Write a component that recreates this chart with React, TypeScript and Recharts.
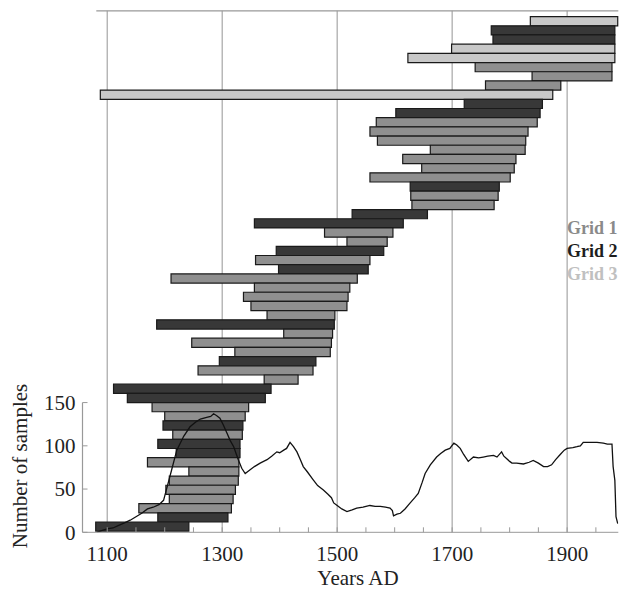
import { CartesianGrid, ComposedChart, Line, ReferenceArea, ReferenceLine, XAxis, YAxis } from "recharts"

// sample depth curve
const sampleYears = [
  1082, 1090, 1100, 1110, 1120, 1130, 1140, 1150, 1160, 1170, 1180, 1190, 1198, 1204, 1212, 1221, 1233, 1244, 1255,
  1262, 1273, 1280, 1285, 1290, 1296, 1302, 1308, 1314, 1320, 1328, 1334, 1340, 1348, 1356, 1366, 1372, 1378, 1386,
  1395, 1400, 1407, 1412, 1418, 1424, 1430, 1436, 1441, 1448, 1458, 1466, 1476, 1484, 1490, 1494, 1500, 1508, 1517,
  1526, 1534, 1545, 1557, 1566, 1575, 1584, 1592, 1596, 1598, 1604, 1610, 1618, 1627, 1635, 1641, 1648, 1653, 1662,
  1673, 1680, 1688, 1696, 1703, 1708, 1714, 1720, 1728, 1737, 1746, 1754, 1762, 1772, 1778, 1786, 1790, 1795, 1800,
  1804, 1812, 1824, 1834, 1841, 1850, 1859, 1866, 1873, 1880, 1888, 1895, 1900, 1910, 1917, 1923, 1928, 1940, 1952,
  1963, 1970, 1978, 1980, 1983, 1985, 1988,
]
const sampleCounts = [
  0, 2, 4, 5, 8, 11, 14, 18, 22, 27, 29, 32, 37, 52, 72, 95, 111, 122, 128,
  131, 133, 134, 137, 135, 132, 124, 115, 106, 99, 84, 74, 68, 72, 76, 80, 82, 84, 88,
  93, 92, 95, 97, 104, 99, 93, 84, 76, 70, 61, 54, 49, 44, 40, 34, 31, 27, 24,
  26, 28, 29, 31, 30, 30, 29, 28, 25, 19, 21, 22, 27, 34, 40, 45, 58, 68, 78,
  87, 91, 95, 97, 103, 101, 97, 90, 82, 87, 86, 87, 88, 89, 87, 93, 88, 85, 82,
  80, 80, 79, 81, 83, 80, 76, 76, 78, 84, 90, 95, 97, 98, 99, 100, 104, 104, 104,
  103, 102, 102, 76, 60, 18, 10,
]

// timbers, top to bottom
const barStarts = [
  1836, 1768, 1771, 1699, 1623, 1740, 1839, 1758, 1088, 1721, 1602, 1568, 1557, 1570, 1662, 1614, 1647, 1557, 1627,
  1628, 1630, 1526, 1356, 1478, 1517, 1394, 1358, 1398, 1211, 1356, 1337, 1350, 1378, 1186, 1407, 1247, 1322, 1295,
  1258, 1373, 1111, 1135, 1178, 1200, 1197, 1214, 1188, 1220, 1170, 1242, 1208, 1202, 1208, 1155, 1188, 1080,
]
const barEnds = [
  1988, 1983, 1983, 1983, 1983, 1978, 1978, 1889, 1875, 1857, 1853, 1848, 1832, 1828, 1827, 1811, 1808, 1801, 1782,
  1780, 1773, 1657, 1615, 1597, 1587, 1581, 1557, 1554, 1535, 1522, 1519, 1517, 1496, 1495, 1492, 1490, 1488, 1463,
  1458, 1432, 1385, 1375, 1346, 1340, 1336, 1335, 1331, 1331, 1329, 1329, 1328, 1323, 1319, 1316, 1310, 1242,
]
const barGrids = [
  3, 2, 2, 3, 3, 1, 1, 1, 3, 2, 2, 1, 1, 1, 1, 1, 1, 1, 2,
  1, 1, 2, 2, 1, 1, 2, 1, 2, 1, 1, 1, 1, 1, 2, 1, 1, 1, 2,
  1, 1, 2, 2, 1, 1, 2, 1, 2, 2, 1, 1, 1, 1, 1, 1, 2, 2,
]

const gridNames = ["Grid 1", "Grid 2", "Grid 3"]
const barColors = ["#8f8f8f", "#383838", "#c8c8c8"]
const legendColors = ["#8a8a8a", "#1e1e1e", "#c0c0c0"]

const labelYears = [1100, 1300, 1500, 1700, 1900]
const minorYears = [
  1100, 1150, 1200, 1250, 1300, 1350, 1400, 1450, 1500, 1550, 1600, 1650, 1700, 1750, 1800, 1850, 1900, 1950,
]
const topYears = minorYears.filter((y) => !labelYears.includes(y))
const countTicks = [0, 50, 100, 150]

const serif = '"Liberation Serif", "Times New Roman", serif'
const axisGray = "#999999"
const xDomain = [1057, 1989]

const data = sampleYears.map((year, i) => ({ year, n: sampleCounts[i] }))

function BottomTick({ x, y, payload }: any) {
  return (
    <g>
      <line x1={x} y1={y} x2={x} y2={y - 5} stroke={axisGray} />
      {labelYears.includes(payload.value) && (
        <text x={x} y={y + 29} textAnchor="middle" fontSize={21} fontFamily={serif} fill="#222">
          {payload.value}
        </text>
      )}
    </g>
  )
}

function TopTick({ x, y }: any) {
  return <line x1={x} y1={y} x2={x} y2={y + 4} stroke={axisGray} />
}

function CountTick({ x, y, payload }: any) {
  return (
    <g>
      <line x1={x} y1={y} x2={x + 5} y2={y} stroke={axisGray} />
      <text x={x - 7} y={y} dy="0.35em" textAnchor="end" fontSize={21} fontFamily={serif} fill="#222">
        {payload.value}
      </text>
    </g>
  )
}

export default function App() {
  return (
    <div style={{ position: "absolute", left: 0, top: 0, width: 637, height: 594, fontFamily: serif }}>
      <ComposedChart
        width={637}
        height={594}
        data={data}
        margin={{ top: 10.8, right: 18.7, bottom: 21.7, left: 22.5 }}
      >
        <YAxis yAxisId="rows" type="number" domain={[-0.63, 56.12]} allowDataOverflow reversed hide />
        <XAxis
          xAxisId="x"
          dataKey="year"
          type="number"
          domain={xDomain}
          allowDataOverflow
          ticks={minorYears}
          interval={0}
          height={40}
          tickSize={0}
          tickMargin={0}
          tickLine={false}
          tick={<BottomTick />}
          stroke={axisGray}
        />
        <XAxis
          xAxisId="t"
          orientation="top"
          dataKey="year"
          type="number"
          domain={xDomain}
          allowDataOverflow
          ticks={topYears}
          interval={0}
          height={0}
          tickSize={0}
          tickMargin={0}
          tickLine={false}
          axisLine={false}
          tick={<TopTick />}
        />
        <YAxis
          yAxisId="n"
          type="number"
          domain={[0, 603]}
          allowDataOverflow
          ticks={countTicks}
          interval={0}
          width={60}
          tickSize={0}
          tickMargin={0}
          tickLine={false}
          axisLine={false}
          tick={<CountTick />}
        />
        <CartesianGrid
          xAxisId="x"
          yAxisId="rows"
          horizontal={false}
          verticalValues={labelYears}
          stroke="#a6a6a6"
          strokeWidth={1.2}
        />
        {barStarts.map((start, i) => (
          <ReferenceArea
            key={i}
            xAxisId="x"
            yAxisId="rows"
            x1={start}
            x2={barEnds[i]}
            y1={i}
            y2={i + 1}
            fill={barColors[barGrids[i] - 1]}
            fillOpacity={1}
            stroke="#1a1a1a"
            strokeWidth={1.2}
            ifOverflow="visible"
          />
        ))}
        <ReferenceLine
          xAxisId="x"
          yAxisId="rows"
          segment={[{ x: 1081, y: -0.63 }, { x: 1989, y: -0.63 }]}
          stroke={axisGray}
          strokeWidth={1.2}
          ifOverflow="visible"
        />
        <ReferenceLine
          xAxisId="x"
          yAxisId="n"
          segment={[{ x: 1057, y: 0 }, { x: 1057, y: 150 }]}
          stroke={axisGray}
          strokeWidth={1.2}
          ifOverflow="visible"
        />
        <Line
          xAxisId="x"
          yAxisId="n"
          dataKey="n"
          type="linear"
          stroke="#111"
          strokeWidth={1.3}
          dot={false}
          isAnimationActive={false}
        />
      </ComposedChart>

      <div
        style={{
          position: "absolute",
          left: 358,
          top: 568,
          transform: "translateX(-50%)",
          fontSize: 21,
          lineHeight: "21px",
          whiteSpace: "nowrap",
          color: "#222",
        }}
      >
        Years AD
      </div>
      <div
        style={{
          position: "absolute",
          left: 20,
          top: 466,
          transform: "translate(-50%, -50%) rotate(-90deg)",
          fontSize: 21,
          lineHeight: "21px",
          whiteSpace: "nowrap",
          color: "#222",
        }}
      >
        Number of samples
      </div>
      <div style={{ position: "absolute", left: 567, top: 217, fontSize: 18, lineHeight: "23px", fontWeight: "bold" }}>
        {gridNames.map((name, i) => (
          <div key={name} style={{ color: legendColors[i], whiteSpace: "nowrap" }}>
            {name}
          </div>
        ))}
      </div>
    </div>
  )
}
